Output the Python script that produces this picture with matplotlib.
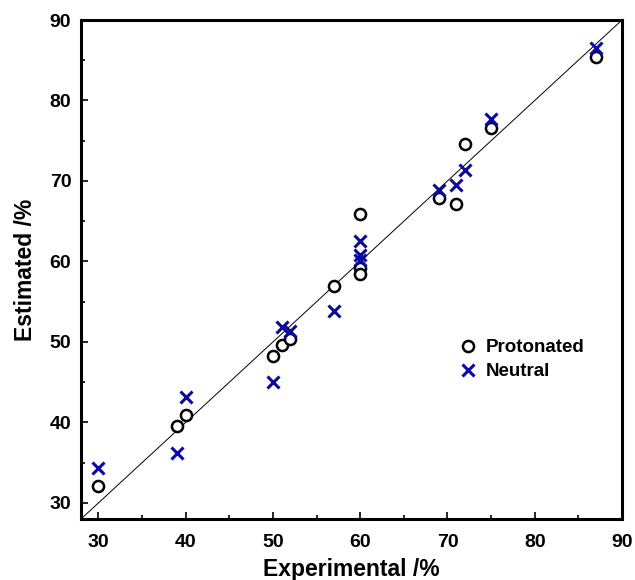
import matplotlib
matplotlib.use("Agg")
import matplotlib.pyplot as plt
from matplotlib.ticker import MultipleLocator

# Data
prot_exp = [30, 39, 40, 50, 51, 52, 57, 60, 60, 60, 69, 71, 72, 75, 87]
prot_est = [32.1, 39.5, 40.9, 48.3, 49.6, 50.4, 57.0, 65.9, 59.2, 58.5, 67.9, 67.1, 74.6, 76.6, 85.4]
neut_exp = [30, 39, 40, 50, 51, 52, 57, 60, 60, 60, 69, 71, 72, 75, 87]
neut_est = [34.3, 36.2, 43.2, 45.0, 51.9, 51.4, 53.8, 62.5, 60.8, 60.2, 68.9, 69.5, 71.4, 77.7, 86.5]
diag = [28, 90]
xticks = [30, 40, 50, 60, 70, 80, 90]
yticks = [30, 40, 50, 60, 70, 80, 90]

plt.rcParams['font.family'] = ['Liberation Sans', 'DejaVu Sans']
plt.rcParams['font.weight'] = 'bold'

fig = plt.figure(figsize=(6.35, 5.8), dpi=100)
ax = fig.add_axes([0.1276, 0.1052, 0.8519, 0.8603])

ax.plot(diag, diag, color='black', lw=0.7, zorder=1)
ax.plot(prot_exp, prot_est, linestyle='none', marker='o', markersize=8,
        markerfacecolor='white', markeredgecolor='black', markeredgewidth=1.8,
        label='Protonated', zorder=3)
ax.plot(neut_exp, neut_est, linestyle='none', marker='x', markersize=8.5,
        color='#0a0aa0', markeredgewidth=2.2, label='Neutral', zorder=4)

ax.set_xlim(28, 90)
ax.set_ylim(28, 90)
ax.set_xticks(xticks)
ax.set_yticks(yticks)
ax.xaxis.set_minor_locator(MultipleLocator(5))
ax.yaxis.set_minor_locator(MultipleLocator(5))
ax.tick_params(which='both', direction='in', width=1.2, top=False, right=False)
ax.tick_params(which='major', length=5, labelsize=14)
ax.tick_params(which='minor', length=3)
ax.tick_params(axis='x', pad=11)
ax.tick_params(axis='y', pad=7)
for lab in ax.get_xticklabels() + ax.get_yticklabels():
    lab.set_fontweight('bold')
for s in ax.spines.values():
    s.set_linewidth(2.2)

ax.set_xlabel('Experimental /%', fontsize=16.5, fontweight='bold', labelpad=5)
ax.set_ylabel('Estimated /%', fontsize=16.5, fontweight='bold', labelpad=9)

leg = ax.legend(loc='upper left', bbox_to_anchor=(0.685, 0.375), frameon=False,
                fontsize=13.5, handletextpad=0.4, handlelength=1.0,
                labelspacing=0.35, borderaxespad=0)
for t in leg.get_texts():
    t.set_fontweight('bold')

fig.savefig('out.png', dpi=100)
